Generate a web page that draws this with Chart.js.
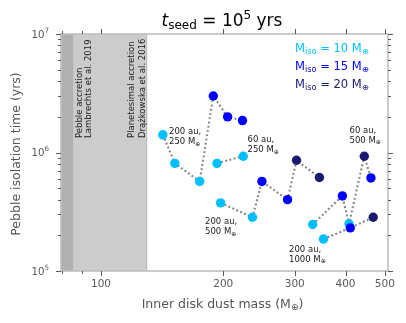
<!DOCTYPE html>
<html><head><meta charset="utf-8">
<script src="https://cdn.jsdelivr.net/npm/chart.js@4"></script>
<style>html,body{margin:0;padding:0;background:#fff}#wrap{width:406px;height:323px}</style>
</head><body><div id="wrap"><canvas id="c" width="406" height="323"></canvas></div>
<script>
// ---- data ----
const massM10 = [142, 152, 175, 193, 224, 197, 236, 332, 353, 408];
const timeM10 = [1.41e6, 8.1e5, 5.7e5, 8.1e5, 9.3e5, 3.76e5, 2.84e5, 2.47e5, 1.86e5, 2.5e5];
const massM15 = [189, 205, 223, 249, 288, 393, 411, 462];
const timeM15 = [3.0e6, 2.0e6, 1.86e6, 5.7e5, 4.0e5, 4.3e5, 2.31e5, 6.1e5];
const massM20 = [303, 345, 445, 468];
const timeM20 = [8.6e5, 6.15e5, 9.3e5, 2.84e5];
const seriesNames = ['M10', 'M15', 'M20'];
const legendValues = ['10', '15', '20'];
// connecting tracks: [series, index]
const track200au250 = [['M10',0],['M10',1],['M10',2],['M15',0],['M15',1],['M15',2]];
const track60au250 = [['M10',3],['M10',4]];
const track200au500 = [['M10',5],['M10',6],['M15',3],['M15',4],['M20',0],['M20',1]];
const track200au1000 = [['M10',8],['M15',6],['M20',3]];
const track60au500 = [['M10',7],['M15',5],['M10',9],['M20',2],['M15',7]];
const trackLabels = [['200 au,','250'],['60 au,','250'],['200 au,','500'],['200 au,','1000'],['60 au,','500']];
const pebbleRange = [79.7, 85.6];
const planetesimalRange = [85.6, 130];
const xMajorTicks = [100, 200, 300, 400, 500];
const xTickLabels = ['100', '200', '300', '400', '500'];
const xMinorTicks = [80, 90];
const yMajorTicks = [1e5, 1e6, 1e7];
const yTickExponents = ['5', '6', '7'];
const yMinorTicks = [2e5,3e5,4e5,5e5,6e5,7e5,8e5,9e5,2e6,3e6,4e6,5e6,6e6,7e6,8e6,9e6];

// ---- styles / layout ----
const colors = {M10:'#00bfff', M15:'#0000ff', M20:'#191970'};
const FONT = '"DejaVu Sans", sans-serif';
const labelPos = [[169,132],[247.5,140],[205,222],[289,249.5],[349.5,130.5]];

const lookup = {M10:[massM10,timeM10], M15:[massM15,timeM15], M20:[massM20,timeM20]};
function trackData(tr){ return tr.map(([s,i]) => ({x: lookup[s][0][i], y: lookup[s][1][i]})); }

const datasets = [];
[track200au250, track60au250, track200au500, track200au1000, track60au500].forEach(tr => {
  datasets.push({data: trackData(tr), showLine: true, borderColor: '#858585', borderWidth: 2.1,
    borderDash: [1.9, 2.4], pointRadius: 0, fill: false, order: 10});
});
seriesNames.forEach((s, k) => {
  datasets.push({data: lookup[s][0].map((m,i)=>({x:m, y:lookup[s][1][i]})), showLine:false,
    pointRadius: 4.7, pointBackgroundColor: colors[s], pointBorderWidth: 0, order: 3-k});
});

function drawRich(ctx, parts, x, y, align){
  let w = 0;
  parts.forEach(p => { ctx.font = (p.italic?'italic ':'') + p.size + 'px ' + FONT; p.w = ctx.measureText(p.t).width; w += p.w; });
  let cx = align === 'center' ? x - w/2 : (align === 'right' ? x - w : x);
  ctx.textAlign = 'left';
  parts.forEach(p => { ctx.font = (p.italic?'italic ':'') + p.size + 'px ' + FONT; ctx.fillStyle = p.color || ctx.fillStyle; ctx.fillText(p.t, cx, y + (p.dy||0)); cx += p.w; });
}

const decor = {
  id: 'decor',
  beforeDatasetsDraw(chart){
    const {ctx, chartArea: a, scales: {x}} = chart;
    ctx.save();
    const p0 = x.getPixelForValue(pebbleRange[0]), p1 = x.getPixelForValue(pebbleRange[1]);
    const q1 = x.getPixelForValue(planetesimalRange[1]);
    ctx.fillStyle = '#cccccc'; ctx.fillRect(p1, a.top, q1 - p1, a.bottom - a.top);
    ctx.fillStyle = '#b0b0b0'; ctx.fillRect(Math.max(p0,a.left), a.top, p1 - Math.max(p0,a.left), a.bottom - a.top);
    ctx.strokeStyle = '#bdbdbd'; ctx.lineWidth = 1;
    ctx.beginPath(); ctx.moveTo(Math.round(q1)-0.5, a.top); ctx.lineTo(Math.round(q1)-0.5, a.bottom); ctx.stroke();
    ctx.fillStyle = '#222';
    ctx.font = '8.5px ' + FONT; ctx.textBaseline = 'middle'; ctx.textAlign = 'left';
    [['Pebble accretion',79.5],['Lambrechts et al. 2019',89],['Planetesimal accretion',131.5],['Drążkowska et al. 2016',142.5]].forEach(([t,px]) => {
      ctx.save(); ctx.translate(px, 138); ctx.rotate(-Math.PI/2); ctx.fillText(t, 0, 0); ctx.restore();
    });
    ctx.restore();
  },
  afterDraw(chart){
    const {ctx, chartArea: a, scales: {x, y}} = chart;
    ctx.save();
    // frame
    ctx.strokeStyle = '#bfbfbf'; ctx.lineWidth = 1.6;
    ctx.strokeRect(a.left, a.top, a.right - a.left, a.bottom - a.top);
    // ticks
    ctx.strokeStyle = '#5a5a5a'; ctx.lineWidth = 1;
    const tick = (x1,y1,x2,y2) => { ctx.beginPath(); ctx.moveTo(x1,y1); ctx.lineTo(x2,y2); ctx.stroke(); };
    xMajorTicks.forEach(v => { const px = Math.round(x.getPixelForValue(v))+0.5; tick(px, a.bottom, px, a.bottom+5); tick(px, a.top, px, a.top-5); });
    xMinorTicks.forEach(v => { const px = Math.round(x.getPixelForValue(v))+0.5; tick(px, a.bottom, px, a.bottom+3); tick(px, a.top, px, a.top-3); });
    yMajorTicks.forEach(v => { const py = Math.round(y.getPixelForValue(v))+0.5; tick(a.left, py, a.left-5, py); tick(a.right, py, a.right+5, py); });
    yMinorTicks.forEach(v => { const py = Math.round(y.getPixelForValue(v))+0.5; tick(a.left, py, a.left-3, py); tick(a.right, py, a.right+3, py); });
    // tick labels
    for (let i = 0; i < xMajorTicks.length; i++) {
      ctx.fillStyle = '#595959'; ctx.font = '10.5px ' + FONT; ctx.textAlign = 'center'; ctx.textBaseline = 'middle';
      ctx.fillText(xTickLabels[i], x.getPixelForValue(xMajorTicks[i]), 284);
    }
    yMajorTicks.forEach((v,i) => {
      drawRich(ctx, [{t:'10', size:10.2}, {t:yTickExponents[i], size:7.2, dy:-4}], 49, y.getPixelForValue(v)+1, 'right');
    });
    // axis titles
    ctx.fillStyle = '#555';
    drawRich(ctx, [{t:'Inner disk dust mass (M', size:12.5}, {t:'⊕', size:9, dy:2.5}, {t:')', size:12.5}], 222.5, 305, 'center');
    ctx.save(); ctx.translate(17, 154); ctx.rotate(-Math.PI/2);
    ctx.font = '12.5px ' + FONT; ctx.textAlign = 'center'; ctx.fillText('Pebble isolation time (yrs)', 0, 0);
    ctx.restore();
    // title
    ctx.fillStyle = '#000'; ctx.textBaseline = 'alphabetic';
    drawRich(ctx, [{t:'t', size:17, italic:true}, {t:'seed', size:12, dy:3}, {t:' = 10', size:17}, {t:'5', size:12, dy:-7}, {t:' yrs', size:17}], 222, 26, 'center');
    // legend text
    ctx.textBaseline = 'middle';
    seriesNames.forEach((s,i) => {
      ctx.fillStyle = colors[s];
      drawRich(ctx, [{t:'M', size:11.5}, {t:'iso', size:8.2, dy:2.5}, {t:' = ' + legendValues[i] + ' M', size:11.5}, {t:'⊕', size:8.2, dy:2.5}], 295, 49 + i*18, 'left');
    });
    // track annotations
    ctx.fillStyle = '#222';
    trackLabels.forEach((lab,i) => {
      const [lx, ly] = labelPos[i];
      ctx.font = '8.5px ' + FONT; ctx.textAlign = 'left'; ctx.fillText(lab[0], lx, ly);
      drawRich(ctx, [{t:lab[1] + ' M', size:8.5}, {t:'⊕', size:6, dy:2}], lx, ly + 10, 'left');
    });
    ctx.restore();
  }
};

new Chart(document.getElementById('c'), {
  type: 'scatter',
  data: {datasets},
  options: {
    responsive: false, animation: false, devicePixelRatio: 1,
    layout: {padding: {left: 61, right: 18, top: 34, bottom: 52}},
    scales: {
      x: {type: 'logarithmic', min: 79.7, max: 509, display: false},
      y: {type: 'logarithmic', min: 1e5, max: 1e7, display: false}
    },
    plugins: {legend: {display: false}, tooltip: {enabled: false}}
  },
  plugins: [decor]
});
</script></body></html>
